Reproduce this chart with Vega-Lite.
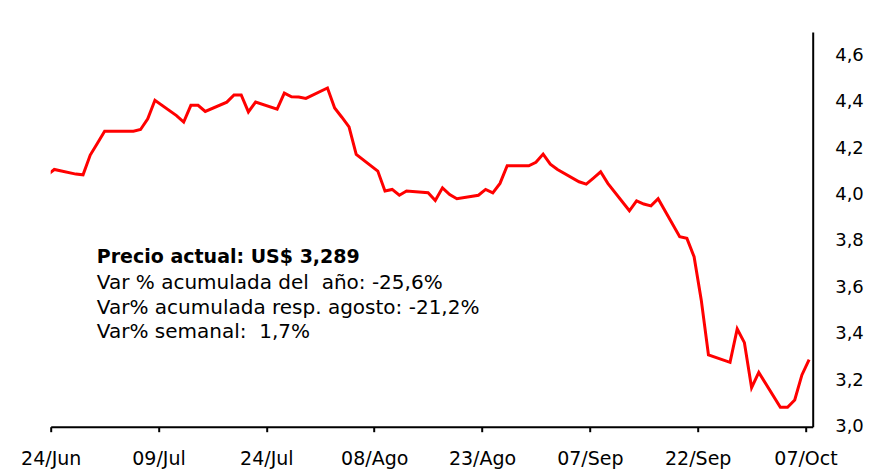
{
  "$schema": "https://vega.github.io/schema/vega-lite/v6.json",
  "autosize": {"type": "none"},
  "width": 762,
  "height": 394.7,
  "padding": {"left": 50.7, "top": 32, "right": 69.3, "bottom": 43.3},
  "background": "white",
  "config": {"view": {"stroke": null}},
  "layer": [
    {
      "data": {"values": [
        {"date": "2011-06-23", "price": 4.084},
        {"date": "2011-06-24", "price": 4.108},
        {"date": "2011-06-27", "price": 4.088},
        {"date": "2011-06-28", "price": 4.085},
        {"date": "2011-06-29", "price": 4.170},
        {"date": "2011-06-30", "price": 4.221},
        {"date": "2011-07-01", "price": 4.273},
        {"date": "2011-07-04", "price": 4.273},
        {"date": "2011-07-05", "price": 4.273},
        {"date": "2011-07-06", "price": 4.280},
        {"date": "2011-07-07", "price": 4.326},
        {"date": "2011-07-08", "price": 4.406},
        {"date": "2011-07-11", "price": 4.340},
        {"date": "2011-07-12", "price": 4.312},
        {"date": "2011-07-13", "price": 4.384},
        {"date": "2011-07-14", "price": 4.384},
        {"date": "2011-07-15", "price": 4.358},
        {"date": "2011-07-18", "price": 4.398},
        {"date": "2011-07-19", "price": 4.429},
        {"date": "2011-07-20", "price": 4.429},
        {"date": "2011-07-21", "price": 4.356},
        {"date": "2011-07-22", "price": 4.398},
        {"date": "2011-07-25", "price": 4.368},
        {"date": "2011-07-26", "price": 4.437},
        {"date": "2011-07-27", "price": 4.421},
        {"date": "2011-07-28", "price": 4.420},
        {"date": "2011-07-29", "price": 4.414},
        {"date": "2011-08-01", "price": 4.459},
        {"date": "2011-08-02", "price": 4.373},
        {"date": "2011-08-03", "price": 4.333},
        {"date": "2011-08-04", "price": 4.291},
        {"date": "2011-08-05", "price": 4.173},
        {"date": "2011-08-08", "price": 4.101},
        {"date": "2011-08-09", "price": 4.015},
        {"date": "2011-08-10", "price": 4.022},
        {"date": "2011-08-11", "price": 3.997},
        {"date": "2011-08-12", "price": 4.015},
        {"date": "2011-08-15", "price": 4.008},
        {"date": "2011-08-16", "price": 3.974},
        {"date": "2011-08-17", "price": 4.029},
        {"date": "2011-08-18", "price": 4.000},
        {"date": "2011-08-19", "price": 3.982},
        {"date": "2011-08-22", "price": 3.997},
        {"date": "2011-08-23", "price": 4.022},
        {"date": "2011-08-24", "price": 4.007},
        {"date": "2011-08-25", "price": 4.048},
        {"date": "2011-08-26", "price": 4.124},
        {"date": "2011-08-29", "price": 4.124},
        {"date": "2011-08-30", "price": 4.139},
        {"date": "2011-08-31", "price": 4.174},
        {"date": "2011-09-01", "price": 4.131},
        {"date": "2011-09-02", "price": 4.108},
        {"date": "2011-09-05", "price": 4.055},
        {"date": "2011-09-06", "price": 4.045},
        {"date": "2011-09-07", "price": 4.071},
        {"date": "2011-09-08", "price": 4.098},
        {"date": "2011-09-09", "price": 4.048},
        {"date": "2011-09-12", "price": 3.930},
        {"date": "2011-09-13", "price": 3.973},
        {"date": "2011-09-14", "price": 3.959},
        {"date": "2011-09-15", "price": 3.951},
        {"date": "2011-09-16", "price": 3.982},
        {"date": "2011-09-19", "price": 3.818},
        {"date": "2011-09-20", "price": 3.811},
        {"date": "2011-09-21", "price": 3.732},
        {"date": "2011-09-22", "price": 3.545},
        {"date": "2011-09-23", "price": 3.309},
        {"date": "2011-09-26", "price": 3.277},
        {"date": "2011-09-27", "price": 3.421},
        {"date": "2011-09-28", "price": 3.362},
        {"date": "2011-09-29", "price": 3.168},
        {"date": "2011-09-30", "price": 3.234},
        {"date": "2011-10-03", "price": 3.084},
        {"date": "2011-10-04", "price": 3.084},
        {"date": "2011-10-05", "price": 3.115},
        {"date": "2011-10-06", "price": 3.223},
        {"date": "2011-10-07", "price": 3.289}
      ]},
      "mark": {"type": "line", "color": "#ff0000", "strokeWidth": 3, "clip": true},
      "encoding": {
        "x": {
          "field": "date",
          "type": "temporal",
          "timeUnit": "utcyearmonthdate",
          "bandPosition": 0.5,
          "scale": {"domain": [
            {"year": 2011, "month": 6, "date": 24, "utc": true},
            {"year": 2011, "month": 10, "date": 8, "utc": true}
          ]},
          "axis": {
            "title": null,
            "grid": false,
            "values": [
              {"year": 2011, "month": 6, "date": 24, "utc": true},
              {"year": 2011, "month": 7, "date": 9, "utc": true},
              {"year": 2011, "month": 7, "date": 24, "utc": true},
              {"year": 2011, "month": 8, "date": 8, "utc": true},
              {"year": 2011, "month": 8, "date": 23, "utc": true},
              {"year": 2011, "month": 9, "date": 7, "utc": true},
              {"year": 2011, "month": 9, "date": 22, "utc": true},
              {"year": 2011, "month": 10, "date": 7, "utc": true}
            ],
            "labelExpr": "utcFormat(datum.value, '%d') + '/' + ['Ene','Feb','Mar','Abr','May','Jun','Jul','Ago','Sep','Oct','Nov','Dic'][utcmonth(datum.value)]",
            "domainColor": "black",
            "domainWidth": 2,
            "tickColor": "black",
            "tickWidth": 2,
            "tickSize": 5,
            "labelFont": "DejaVu Sans",
            "labelFontSize": 19,
            "labelColor": "black",
            "labelPadding": 18,
            "labelFlush": false,
            "labelOverlap": false,
            "labelBound": false
          }
        },
        "y": {
          "field": "price",
          "type": "quantitative",
          "scale": {"domain": [3.0, 4.7], "nice": false, "zero": false},
          "axis": {
            "orient": "right",
            "title": null,
            "grid": false,
            "values": [3.0, 3.2, 3.4, 3.6, 3.8, 4.0, 4.2, 4.4, 4.6],
            "labelExpr": "replace(format(datum.value, '.1f'), '.', ',')",
            "domainColor": "black",
            "domainWidth": 2,
            "ticks": false,
            "tickSize": 0,
            "labelFont": "DejaVu Sans",
            "labelFontSize": 18,
            "labelColor": "black",
            "labelPadding": 22,
            "labelOverlap": false,
            "labelBound": false,
            "labelFlush": false
          }
        }
      }
    },
    {
      "data": {"values": [{"label": "Precio actual: US$ 3,289"}]},
      "mark": {"type": "text", "align": "left", "baseline": "alphabetic", "font": "DejaVu Sans", "fontSize": 19, "fontWeight": "bold", "color": "black"},
      "encoding": {
        "x": {"datum": {"year": 2011, "month": 6, "date": 30, "hours": 10, "utc": true}, "type": "temporal"},
        "y": {"datum": 3.706, "type": "quantitative"},
        "text": {"field": "label"}
      }
    },
    {
      "data": {"values": [{"label": "Var % acumulada del \u00a0año: -25,6%\nVar% acumulada resp. agosto: -21,2%\nVar% semanal: \u00a01,7%"}]},
      "mark": {"type": "text", "align": "left", "baseline": "alphabetic", "font": "DejaVu Sans", "fontSize": 20, "color": "black", "lineBreak": "\n", "lineHeight": 24.5},
      "encoding": {
        "x": {"datum": {"year": 2011, "month": 6, "date": 30, "hours": 10, "utc": true}, "type": "temporal"},
        "y": {"datum": 3.592, "type": "quantitative"},
        "text": {"field": "label"}
      }
    }
  ]
}
